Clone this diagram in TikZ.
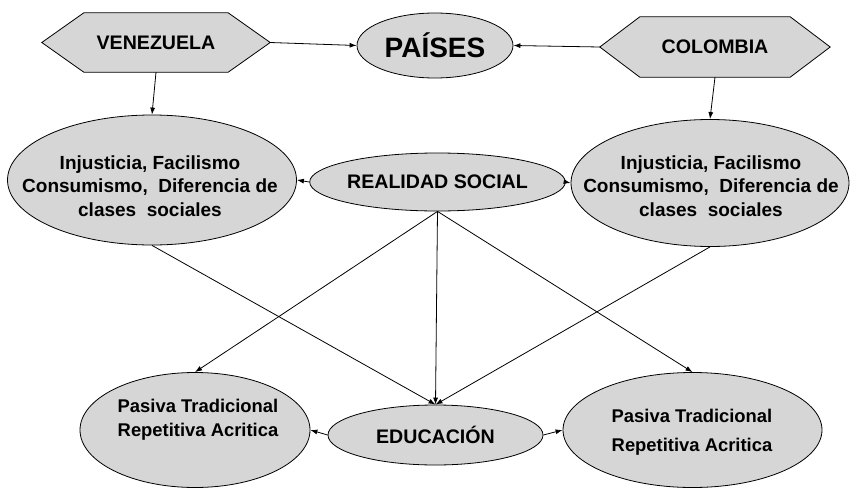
\documentclass[tikz,border=0pt]{standalone}
\usepackage{fontspec}
\setmainfont{Liberation Sans}
\usetikzlibrary{shapes.geometric,arrows.meta,calc,backgrounds}
\begin{document}
\tikzset{
  shaded/.style={draw=black, line width=0.8pt, fill=gray!32},
  ell/.style={shaded, ellipse, inner sep=0pt},
  ttl/.style={font=\bfseries\fontsize{19.6}{22}\selectfont},
  body/.style={font=\bfseries\fontsize{19}{23.5}\selectfont, align=center, inner sep=0pt},
  conn/.style={line width=0.8pt, -{Latex[length=7pt,width=5pt]}},
  hexbox/.style={draw=none, inner sep=0pt, ttl},
}
\newcommand{\hexdraw}[2]{%
  \begin{scope}[on background layer]
    \draw[shaded] (#1.west) -- ($(#1.north west)+(#2,0)$) -- ($(#1.north east)+(-#2,0)$)
      -- (#1.east) -- ($(#1.south east)+(-#2,0)$) -- ($(#1.south west)+(#2,0)$) -- cycle;
  \end{scope}}
\begin{tikzpicture}[x=1pt,y=-1pt]
\useasboundingbox (0,0) rectangle (855,490);

% top row
\node[hexbox, minimum width=228pt, minimum height=59pt] (ven) at (156,42.5) {VENEZUELA};
\hexdraw{ven}{42}
\node[hexbox, minimum width=230pt, minimum height=60pt] (col) at (715,47) {COLOMBIA};
\hexdraw{col}{40}
\node[ell, minimum width=156pt, minimum height=65pt, font=\bfseries\fontsize{28}{30}\selectfont] (pai) at (435,45.5) {PAÍSES};

% middle row
\node[ell, minimum width=289pt, minimum height=130pt] (li) at (152,180) {};
\node[body] (liT) at (150,186) {Injusticia, Facilismo\\Consumismo,\ \ Diferencia de\\clases\ \ sociales};
\node[ell, minimum width=278pt, minimum height=127pt] (ri) at (710,183) {};
\node[body] (riT) at (711,186) {Injusticia, Facilismo\\Consumismo,\ \ Diferencia de\\clases\ \ sociales};
\node[ell, minimum width=211pt, minimum height=58pt, ttl] (rs) at (437.5,182) {REALIDAD SOCIAL};

% bottom row
\node[ell, minimum width=230pt, minimum height=115pt] (pl) at (195,430) {};
\node[body, font=\bfseries\fontsize{18.4}{24}\selectfont] (plT) at (198,420) {Pasiva Tradicional\\Repetitiva Acritica};
\node[ell, minimum width=259pt, minimum height=115pt] (pr) at (692.5,430) {};
\node[body, font=\bfseries\fontsize{18.4}{29}\selectfont] (prT) at (692,432) {Pasiva Tradicional\\Repetitiva Acritica};
\node[ell, minimum width=215pt, minimum height=60pt, ttl] (ed) at (435.5,435) {EDUCACIÓN};

% connectors
\draw[conn] (ven.east) -- (pai.west);
\draw[conn] (col.west) -- (pai.east);
\draw[conn] (ven.south) -- (li.north);
\draw[conn] (col.south) -- (ri.north);
\draw[conn] (rs.west) -- (li.east);
\draw[conn] (rs.east) -- (ri.west);
\draw[conn] (rs.south) -- (pl.north);
\draw[conn] (rs.south) -- (pr.north);
\draw[conn] (rs.south) -- (ed.north);
\draw[conn] (li.south) -- (ed.north);
\draw[conn] (ri.south) -- (ed.north);
\draw[conn] (ed.west) -- (pl.east);
\draw[conn] (ed.east) -- (pr.west);
\end{tikzpicture}
\end{document}
